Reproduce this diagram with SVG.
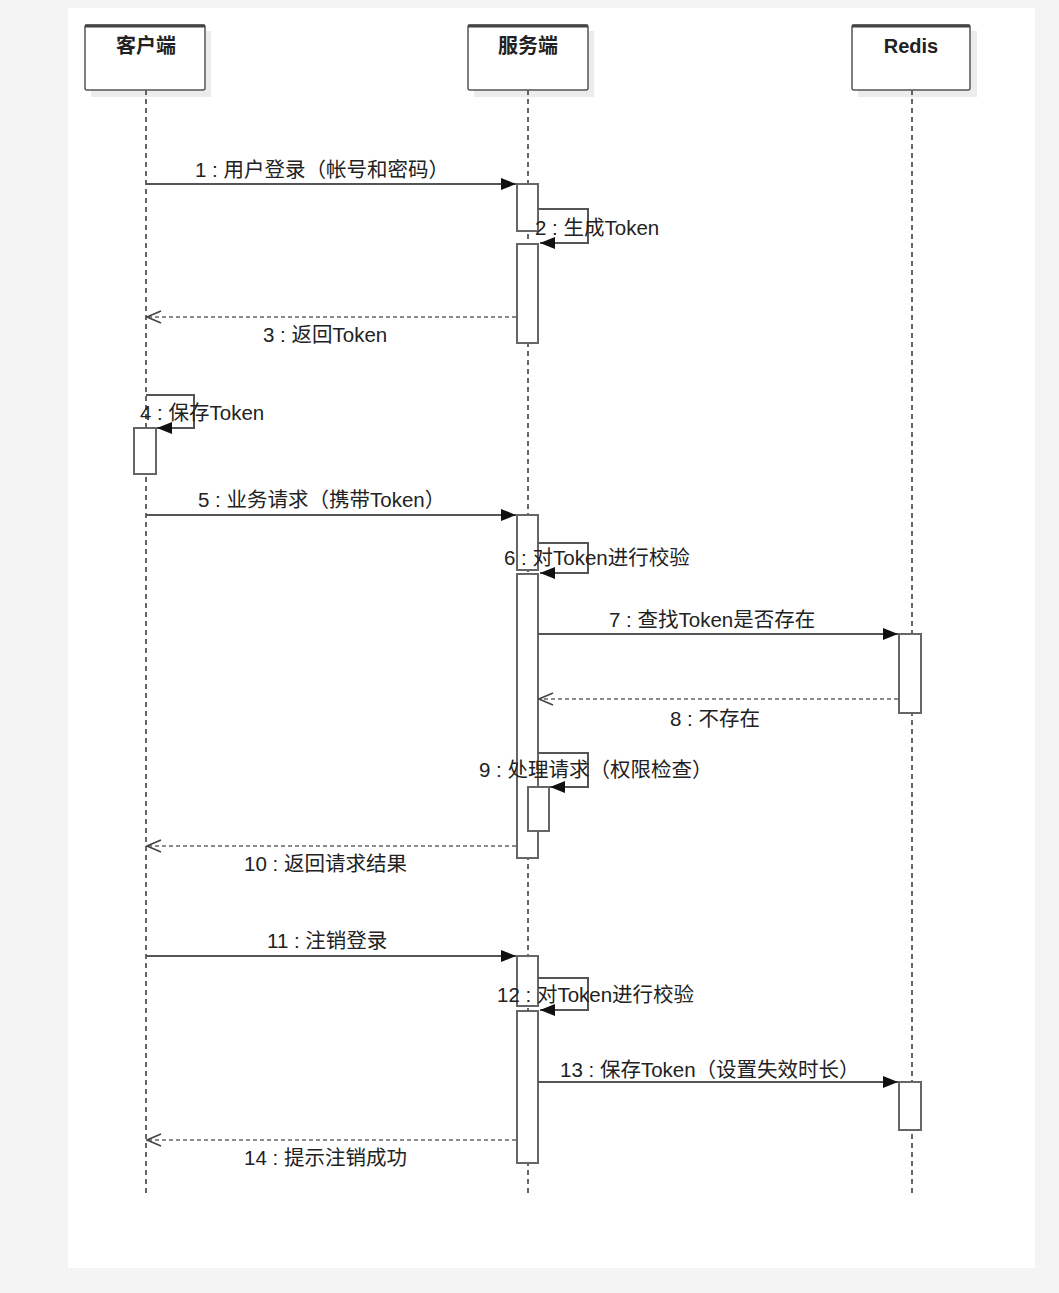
<svg xmlns="http://www.w3.org/2000/svg" width="1059" height="1293" viewBox="0 0 1059 1293">
<defs>
<style>
.bg{fill:#f4f4f4}
.panel{fill:#ffffff}
.hdr{fill:#ffffff;stroke:#555;stroke-width:1.5}
.hdrtop{stroke:#444;stroke-width:3}
.shadow{fill:#ececec}
.hdrtxt{font-family:"Liberation Sans","Noto Sans CJK SC",sans-serif;font-size:20px;font-weight:bold;fill:#222;text-anchor:middle}
.life{stroke:#333;stroke-width:1.5;stroke-dasharray:5 4;fill:none}
.act{fill:#ffffff;stroke:#666;stroke-width:2}
.msg{stroke:#555;stroke-width:2;fill:none}
.ret{stroke:#666;stroke-width:1.5;stroke-dasharray:4 3;fill:none}
.lbl{font-family:"Liberation Sans","Noto Sans CJK SC",sans-serif;font-size:20.5px;fill:#222}
</style>
<marker id="fill" markerWidth="16" markerHeight="14" refX="15" refY="7" orient="auto" markerUnits="userSpaceOnUse">
<path d="M0,1 L15,7 L0,13 Z" fill="#111"/>
</marker>
<marker id="open" markerWidth="16" markerHeight="14" refX="15" refY="7" orient="auto" markerUnits="userSpaceOnUse">
<path d="M1,1 L15,7 L1,13" fill="none" stroke="#444" stroke-width="1.5"/>
</marker>
</defs>
<rect class="bg" x="0" y="0" width="1059" height="1293"/>
<rect class="panel" x="68" y="8" width="967" height="1260"/>

<g id="shadows">
<rect class="shadow" x="91" y="31" width="120" height="66"/>
<rect class="shadow" x="474" y="31" width="120" height="66"/>
<rect class="shadow" x="858" y="31" width="119" height="66"/>
</g>

<g id="lifelines">
<line class="life" x1="146" y1="90" x2="146" y2="1197"/>
<line class="life" x1="528" y1="90" x2="528" y2="1197"/>
<line class="life" x1="912" y1="90" x2="912" y2="1197"/>
</g>

<g id="node-client">
<rect class="hdr" x="85" y="25" width="120" height="65" rx="2"/>
<line class="hdrtop" x1="85" y1="26" x2="205" y2="26"/>
<text class="hdrtxt" x="146" y="53">客户端</text>
</g>
<g id="node-server">
<rect class="hdr" x="468" y="25" width="120" height="65" rx="2"/>
<line class="hdrtop" x1="468" y1="26" x2="588" y2="26"/>
<text class="hdrtxt" x="528" y="53">服务端</text>
</g>
<g id="node-redis">
<rect class="hdr" x="852" y="25" width="118" height="65" rx="2"/>
<line class="hdrtop" x1="852" y1="26" x2="970" y2="26"/>
<text class="hdrtxt" x="911" y="53">Redis</text>
</g>

<g id="activations">
<rect class="act" x="517" y="184" width="21" height="47"/>
<rect class="act" x="517" y="244" width="21" height="99"/>
<rect class="act" x="134" y="428" width="22" height="46"/>
<rect class="act" x="517" y="515" width="21" height="55"/>
<rect class="act" x="517" y="574" width="21" height="284"/>
<rect class="act" x="899" y="634" width="22" height="79"/>
<rect class="act" x="528" y="787" width="21" height="44"/>
<rect class="act" x="517" y="956" width="21" height="50"/>
<rect class="act" x="517" y="1011" width="21" height="152"/>
<rect class="act" x="899" y="1082" width="22" height="48"/>
</g>

<g id="connectors">
<line class="msg" x1="146" y1="184" x2="516" y2="184" marker-end="url(#fill)"/>
<polyline class="msg" points="538,209 588,209 588,243 540,243" marker-end="url(#fill)"/>
<line class="ret" x1="516" y1="317" x2="147" y2="317" marker-end="url(#open)"/>
<polyline class="msg" points="146,395 194,395 194,428 157,428" marker-end="url(#fill)"/>
<line class="msg" x1="146" y1="515" x2="516" y2="515" marker-end="url(#fill)"/>
<polyline class="msg" points="538,543 588,543 588,573 540,573" marker-end="url(#fill)"/>
<line class="msg" x1="538" y1="634" x2="898" y2="634" marker-end="url(#fill)"/>
<line class="ret" x1="898" y1="699" x2="539" y2="699" marker-end="url(#open)"/>
<polyline class="msg" points="538,753 588,753 588,787 550,787" marker-end="url(#fill)"/>
<line class="ret" x1="516" y1="846" x2="147" y2="846" marker-end="url(#open)"/>
<line class="msg" x1="146" y1="956" x2="516" y2="956" marker-end="url(#fill)"/>
<polyline class="msg" points="538,978 588,978 588,1010 540,1010" marker-end="url(#fill)"/>
<line class="msg" x1="538" y1="1082" x2="898" y2="1082" marker-end="url(#fill)"/>
<line class="ret" x1="516" y1="1140" x2="147" y2="1140" marker-end="url(#open)"/>
</g>

<g id="labels">
<text class="lbl" x="195" y="177">1 : 用户登录（帐号和密码）</text>
<text class="lbl" x="535" y="235">2 : 生成Token</text>
<text class="lbl" x="263" y="342">3 : 返回Token</text>
<text class="lbl" x="140" y="420">4 : 保存Token</text>
<text class="lbl" x="198" y="507">5 : 业务请求（携带Token）</text>
<text class="lbl" x="504" y="565">6 : 对Token进行校验</text>
<text class="lbl" x="609" y="627">7 : 查找Token是否存在</text>
<text class="lbl" x="670" y="726">8 : 不存在</text>
<text class="lbl" x="479" y="777">9 : 处理请求（权限检查）</text>
<text class="lbl" x="244" y="871">10 : 返回请求结果</text>
<text class="lbl" x="267" y="948">11 : 注销登录</text>
<text class="lbl" x="497" y="1002">12 : 对Token进行校验</text>
<text class="lbl" x="560" y="1077">13 : 保存Token（设置失效时长）</text>
<text class="lbl" x="244" y="1165">14 : 提示注销成功</text>
</g>
</svg>
